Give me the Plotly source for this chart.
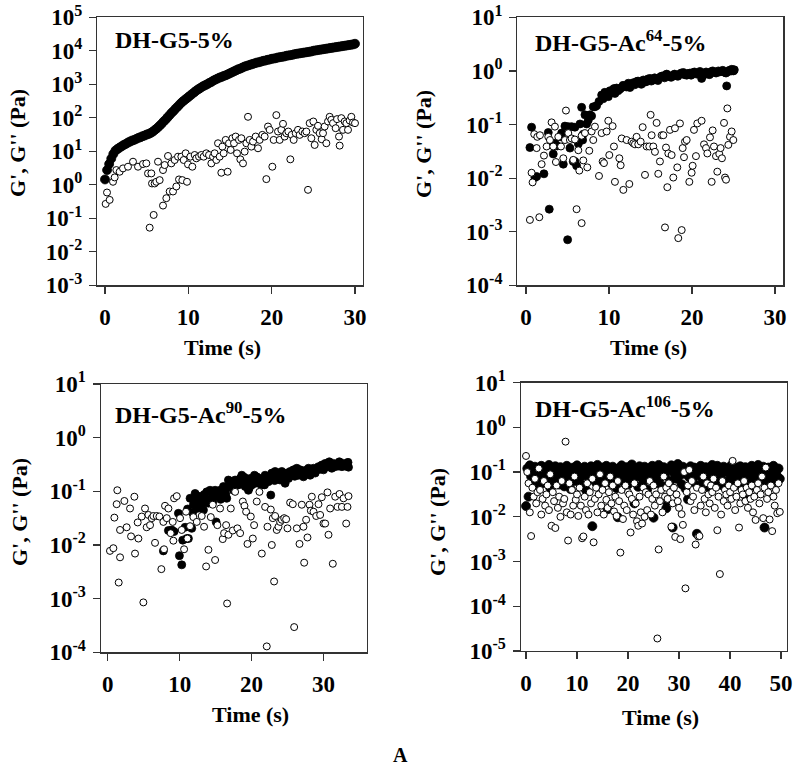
import plotly.graph_objects as go

# ---------------- DATA (values stored as log10 of Pa) ----------------
# Panel 1: DH-G5-5%
p1_gp_t = [0,0.25,0.5,0.75,1,1.25,1.5,1.75,2,2.25,2.5,2.75,3,3.25,3.5,3.75,4,4.25,4.5,4.75,
           5,5.25,5.5,5.75,6,6.25,6.5,6.75,7,7.25,7.5,7.75,8,8.25,8.5,8.75,9,9.25,9.5,9.75,
           10,10.25,10.5,10.75,11,11.25,11.5,11.75,12,12.25,12.5,12.75,13,13.25,13.5,13.75,14,14.25,14.5,14.75,
           15,15.25,15.5,15.75,16,16.25,16.5,16.75,17,17.25,17.5,17.75,18,18.25,18.5,18.75,19,19.25,19.5,19.75,
           20,20.25,20.5,20.75,21,21.25,21.5,21.75,22,22.25,22.5,22.75,23,23.25,23.5,23.75,24,24.25,24.5,24.75,
           25,25.25,25.5,25.75,26,26.25,26.5,26.75,27,27.25,27.5,27.75,28,28.25,28.5,28.75,29,29.25,29.5,29.75,30]
p1_gp_log = [0.16,0.44,0.62,0.78,0.92,1.02,1.07,1.11,
             1.15,1.19,1.22,1.26,1.29,1.32,1.34,1.37,
             1.40,1.42,1.45,1.47,1.50,1.52,1.55,1.59,
             1.64,1.69,1.75,1.81,1.88,1.94,2.01,2.08,
             2.15,2.21,2.28,2.34,2.41,2.47,2.52,2.57,
             2.62,2.67,2.72,2.77,2.82,2.86,2.90,2.94,
             2.97,3.00,3.04,3.07,3.11,3.14,3.17,3.20,
             3.22,3.25,3.27,3.30,3.33,3.36,3.39,3.42,
             3.45,3.47,3.50,3.53,3.55,3.57,3.59,3.61,
             3.63,3.65,3.66,3.68,3.70,3.71,3.73,3.74,
             3.76,3.77,3.78,3.80,3.81,3.82,3.83,3.85,
             3.86,3.87,3.88,3.90,3.91,3.92,3.93,3.94,
             3.95,3.96,3.97,3.98,4.00,4.01,4.02,4.03,
             4.04,4.05,4.06,4.07,4.08,4.09,4.10,4.11,
             4.12,4.13,4.14,4.15,4.16,4.17,4.18,4.19,4.21]
p1_gpp_t = [0.08,0.24,0.56,0.96,1.16,1.36,1.76,2.16,2.76,3.36,
            3.96,4.56,4.96,5.16,5.36,5.56,5.64,5.84,5.96,6.16,
            6.36,6.56,6.96,6.96,7.16,7.36,7.56,7.76,7.96,8.16,
            8.36,8.56,8.76,8.88,9.16,9.28,9.44,9.68,9.84,9.96,
            10.24,10.48,10.76,10.96,11.28,11.56,11.84,12.16,12.48,12.76,
            12.96,13.16,13.36,13.56,13.76,13.96,14.08,14.24,14.48,14.72,
            14.88,15.08,15.28,15.48,15.68,15.84,16.08,16.24,16.36,16.56,
            16.76,16.96,17.16,17.36,17.56,17.76,18.08,18.36,18.56,18.88,
            19.16,19.36,19.56,19.76,20.08,20.24,20.56,20.76,20.96,21.16,
            21.36,21.56,21.76,22.00,22.24,22.40,22.64,22.88,23.16,23.36,
            23.68,23.96,24.16,24.36,24.56,24.76,25.00,25.16,25.36,25.56,
            25.76,26.00,26.16,26.36,26.56,26.76,26.96,27.16,27.36,27.68,
            27.84,28.08,28.16,28.36,28.56,28.76,28.96,29.16,29.36,29.56,
            29.76,30.0]
p1_gpp_log = [-0.57,-0.23,-0.45,0.09,0.22,0.44,0.39,0.49,0.54,0.69,
              0.54,0.62,0.64,0.34,-1.28,0.34,0.04,-0.90,0.04,0.09,
              0.69,0.14,-0.62,0.44,0.59,-0.40,0.86,-0.20,0.64,-0.20,
              0.74,-0.05,0.84,0.16,0.84,0.14,0.74,0.94,0.09,0.61,
              0.84,0.54,0.89,0.79,0.84,0.89,0.84,0.94,0.89,0.64,
              0.84,0.94,0.74,1.24,0.84,0.36,1.14,0.94,1.34,0.39,
              1.24,1.04,1.39,1.24,1.44,0.94,1.34,0.76,1.39,0.64,
              0.99,1.24,2.03,1.34,1.14,1.29,1.44,1.09,1.34,1.49,
              1.44,0.17,1.74,1.64,0.54,1.34,2.08,1.59,1.34,1.64,
              1.82,1.44,1.54,1.59,0.76,1.49,1.34,1.54,1.64,1.49,
              1.59,1.54,1.59,-0.15,1.84,1.39,1.89,1.19,1.64,1.76,
              1.54,1.36,1.54,1.74,1.24,1.89,2.03,1.94,1.84,1.69,
              1.96,1.44,1.17,1.99,1.64,1.89,1.84,1.64,1.92,2.03,
              1.86,1.84]

# Panel 2: DH-G5-Ac64-5%
p2_gp_t = [0.48,0.68,1.08,1.29,2.17,2.69,2.81,3.29,3.49,3.78,
           4.10,4.30,4.50,4.70,5.02,5.10,5.30,5.50,5.70,5.90,
           5.90,6.10,6.31,6.51,6.71,6.83,6.91,7.11,7.31,7.51,
           7.71,7.91,8.11,8.31,8.51,8.80,9.12,9.40,9.72,9.92,
           10.12,10.52,10.72,10.92,11.33,11.53,11.93,12.33,12.53,12.93,
           13.33,13.73,14.14,14.54,14.94,15.34,15.74,16.14,16.55,16.95,
           17.35,17.75,18.15,18.55,18.96,19.36,19.76,20.16,20.56,20.96,
           21.16,21.57,21.97,22.37,22.77,23.17,23.57,23.98,24.18,24.38,
           24.58,24.78,24.98,25.10,
           9.3,9.5,9.9,10.3,10.6,11.1,11.7,12.1,12.7,13.1,
           13.5,13.9,14.3,14.7,15.1,15.5,15.9,16.3,16.7,17.1,
           17.5,17.9,18.3,18.7,19.1,19.5,19.9,20.3,20.7,21.3,
           21.7,22.1,22.5,22.9,23.3,23.7,24.1,24.5,24.8,25.0]
p2_gp_log = [-1.43,-1.05,-1.99,-1.97,-1.92,-1.15,-2.58,-1.55,-1.35,-1.40,
             -1.23,-1.16,-1.74,-1.03,-3.15,-1.04,-1.44,-1.04,-1.69,-1.69,
             -1.05,-1.77,-1.36,-0.99,-0.68,-1.29,-1.18,-0.82,-0.99,-0.92,
             -0.82,-0.84,-0.67,-0.67,-0.65,-0.57,-0.45,-0.48,-0.42,-0.48,
             -0.37,-0.36,-0.42,-0.32,-0.34,-0.31,-0.28,-0.23,-0.31,-0.22,
             -0.20,-0.23,-0.17,-0.20,-0.14,-0.17,-0.16,-0.12,-0.09,-0.06,
             -0.11,-0.08,-0.09,-0.06,-0.03,-0.08,-0.04,-0.03,-0.06,-0.01,
             -0.14,-0.06,-0.04,-0.01,-0.03,0.0,-0.01,-0.03,-0.28,-0.01,
             0.00,0.0,0.01,0.02,
             -0.52,-0.40,-0.44,-0.40,-0.33,-0.37,-0.27,-0.30,-0.25,-0.26,
             -0.19,-0.25,-0.21,-0.15,-0.19,-0.13,-0.18,-0.10,-0.13,-0.08,
             -0.12,-0.06,-0.10,-0.04,-0.07,-0.05,-0.08,-0.02,-0.05,-0.09,
             -0.02,-0.07,0.00,-0.04,-0.02,0.01,-0.04,0.01,0.03,0.00]
p2_gpp_t = [0.48,0.68,0.80,1.00,1.29,1.37,1.61,1.69,1.89,2.17,
            2.49,2.69,2.89,3.09,3.29,3.49,3.61,3.90,4.22,4.50,
            4.70,4.82,5.10,5.30,5.50,5.70,5.90,6.10,6.31,6.43,
            6.71,6.71,6.91,7.11,7.39,7.63,7.91,8.11,8.31,8.80,
            9.12,9.24,9.40,9.72,9.92,10.04,10.44,10.60,10.72,11.25,
            11.41,11.53,11.73,12.13,12.45,12.73,12.93,13.13,13.33,13.53,
            13.82,14.06,14.34,14.54,14.86,15.02,15.14,15.34,15.54,15.74,
            15.94,16.14,16.35,16.55,16.75,16.87,17.03,17.15,17.35,17.55,
            17.75,17.95,18.23,18.35,18.55,18.76,18.88,19.04,19.16,19.36,
            19.68,19.96,20.08,20.24,20.48,20.64,21.16,21.45,21.69,21.85,
            22.17,22.37,22.49,22.65,22.89,23.05,23.29,23.45,23.61,23.86,
            23.98,24.10,24.26,24.38,24.58,24.78,24.98]
p2_gpp_log = [-2.78,-1.90,-2.08,-1.18,-1.44,-1.23,-2.73,-1.20,-1.74,-1.58,
              -1.41,-1.23,-1.29,-0.96,-1.41,-1.04,-1.70,-1.23,-1.41,-1.63,
              -1.29,-0.74,-1.16,-1.29,-1.26,-1.66,-1.28,-2.58,-1.48,-1.86,
              -2.84,-1.21,-1.67,-1.16,-1.80,-1.49,-1.13,-1.29,-1.04,-1.96,
              -1.16,-1.69,-1.72,-1.13,-0.93,-1.57,-1.03,-1.41,-2.07,-1.63,
              -1.76,-1.26,-2.22,-1.29,-2.11,-1.32,-1.35,-1.37,-1.23,-1.37,
              -1.32,-1.05,-1.94,-1.41,-1.41,-0.82,-1.20,-1.41,-1.51,-0.97,
              -1.92,-1.69,-1.20,-1.20,-2.92,-1.43,-2.17,-1.54,-1.10,-1.57,
              -1.99,-1.07,-1.80,-3.12,-0.98,-2.97,-1.44,-1.61,-1.32,-1.29,
              -2.07,-1.90,-1.77,-1.10,-1.59,-0.98,-0.93,-1.37,-1.44,-1.54,
              -1.24,-2.07,-1.11,-1.41,-1.59,-1.88,-1.55,-1.44,-1.63,-0.97,
              -1.99,-2.03,-0.70,-1.38,-1.23,-1.13,-1.29]

# Panel 3: DH-G5-Ac90-5%
p3_gp_t = [7.74,8.44,8.90,9.23,9.83,9.97,10.29,10.43,10.76,10.99,
           11.22,11.45,11.68,11.91,12.15,12.38,12.61,12.84,13.07,13.31,
           13.54,13.77,14.00,14.23,14.46,14.70,14.93,15.07,15.39,15.62,
           15.86,16.09,16.32,16.55,16.78,17.01,17.25,17.48,17.71,17.94,
           18.17,18.41,18.64,18.87,19.10,19.33,19.56,19.80,20.03,20.26,
           20.49,20.72,20.95,21.19,21.42,21.65,21.88,22.11,22.34,22.67,
           22.81,23.04,23.27,23.50,23.74,23.97,24.20,24.43,24.66,24.90,
           25.13,25.36,25.59,25.82,26.05,26.29,26.52,26.75,26.98,27.21,
           27.44,27.68,27.91,28.14,28.37,28.61,28.84,29.07,29.30,29.53,
           29.76,30.00,30.23,30.46,30.69,30.92,31.15,31.39,31.62,31.85,
           32.08,32.31,32.55,32.78,33.01,33.24,33.47,
           11.1,11.8,12.3,12.9,13.4,13.9,14.6,15.2,15.7,16.4,
           17.1,17.6,18.3,19.0,19.7,20.4,21.1,21.8,22.5,23.2,
           23.9,24.6,25.3,26.0,26.7,27.4,28.1,28.8,29.5,30.1,
           30.8,31.5,32.2,32.9,33.4]
p3_gp_log = [-2.11,-1.73,-1.72,-1.75,-1.41,-2.20,-2.37,-1.91,-1.67,-1.88,
             -1.88,-1.13,-1.69,-1.25,-1.04,-1.32,-1.09,-1.19,-1.25,-1.35,
             -1.13,-1.01,-1.22,-0.98,-1.13,-1.04,-0.98,-1.57,-1.10,-0.98,
             -1.10,-0.91,-0.98,-1.13,-0.79,-0.91,-0.82,-0.98,-0.79,-0.85,
             -0.88,-0.76,-0.70,-0.85,-0.91,-0.82,-0.98,-0.76,-0.88,-0.78,
             -0.85,-0.73,-0.85,-0.76,-0.88,-0.82,-0.70,-0.76,-0.82,-1.07,
             -0.66,-0.73,-0.63,-0.76,-0.66,-0.79,-0.63,-0.70,-0.85,-0.66,
             -0.76,-0.63,-0.70,-0.60,-0.66,-0.57,-0.70,-0.60,-0.63,-0.73,
             -0.61,-0.66,-0.57,-0.70,-0.63,-0.57,-0.66,-0.60,-0.54,-0.59,
             -0.51,-0.60,-0.48,-0.54,-0.47,-0.51,-0.57,-0.48,-0.54,-0.49,
             -0.53,-0.47,-0.54,-0.48,-0.53,-0.49,-0.55,
             -1.33,-1.40,-1.18,-1.28,-1.06,-1.16,-1.20,-1.02,-1.15,-1.05,
             -0.86,-0.92,-0.80,-0.74,-0.93,-0.70,-0.80,-0.88,-0.72,-0.80,
             -0.70,-0.75,-0.68,-0.72,-0.66,-0.69,-0.61,-0.62,-0.56,-0.55,
             -0.45,-0.52,-0.45,-0.50,-0.46]
p3_gpp_t = [0.32,0.79,0.93,1.25,1.34,1.53,1.72,1.72,2.32,2.64,
            3.11,3.25,3.71,3.80,4.17,4.27,4.73,4.96,5.19,5.42,
            5.66,5.89,6.12,6.35,6.58,6.82,7.19,7.46,7.74,7.83,
            7.97,8.21,8.44,8.76,9.04,9.13,9.23,9.60,10.06,10.29,
            10.62,10.89,11.08,11.45,11.91,12.38,13.07,13.40,13.68,14.00,
            14.33,14.60,14.93,15.25,15.62,15.99,16.18,16.46,16.60,16.78,
            17.11,17.39,17.71,18.03,18.41,18.78,19.01,19.24,19.43,19.89,
            20.17,20.35,20.72,21.09,21.42,21.88,22.11,22.21,22.67,22.81,
            22.95,23.13,23.27,23.50,23.74,23.97,24.20,24.53,24.80,24.99,
            25.36,25.73,25.92,26.29,26.66,26.98,27.21,27.31,27.58,27.77,
            28.05,28.24,28.37,28.61,28.98,29.30,29.53,29.76,30.00,30.23,
            30.55,30.69,30.92,31.29,31.62,31.94,32.22,32.55,32.78,33.15,
            33.33,33.47]
p3_gpp_log = [-2.11,-2.06,-1.49,-1.24,-0.98,-2.70,-1.72,-2.23,-1.18,-1.67,
              -1.32,-1.84,-1.10,-2.16,-1.58,-1.88,-1.47,-3.07,-1.32,-1.67,
              -1.44,-1.63,-1.50,-1.46,-1.96,-1.46,-1.47,-2.45,-1.57,-2.08,
              -1.27,-1.50,-1.32,-1.78,-1.57,-1.92,-1.13,-1.09,-1.50,-1.72,
              -2.08,-1.38,-1.88,-1.65,-1.48,-1.57,-1.46,-1.66,-2.40,-2.09,
              -1.48,-1.25,-2.28,-1.63,-1.32,-1.89,-1.78,-1.63,-3.09,-1.81,
              -1.32,-1.73,-1.01,-1.69,-1.78,-1.19,-1.27,-1.38,-1.98,-1.47,
              -1.88,-1.63,-1.19,-1.01,-2.16,-1.29,-3.89,-1.66,-1.34,-2.00,
              -1.50,-2.68,-1.46,-1.72,-1.66,-1.57,-1.53,-1.50,-1.52,-1.69,
              -1.21,-1.24,-3.53,-1.69,-1.98,-1.25,-1.66,-2.33,-1.53,-1.86,
              -1.25,-1.36,-1.10,-1.38,-1.46,-1.24,-1.44,-1.11,-1.60,-1.60,
              -1.02,-1.81,-1.32,-2.35,-1.10,-1.29,-1.05,-1.29,-1.13,-1.60,
              -1.29,-1.09]

# Panel 4: DH-G5-Ac106-5% (common sampling times for G' and G'')
p4_t = [0,0.25,0.5,0.75,1,1.25,1.5,1.75,2,2.25,
        2.5,2.75,3,3.25,3.5,3.75,4,4.25,4.5,4.75,
        5,5.25,5.5,5.75,6,6.25,6.5,6.75,7,7.25,
        7.5,7.75,8,8.25,8.5,8.75,9,9.25,9.5,9.75,
        10,10.25,10.5,10.75,11,11.25,11.5,11.75,12,12.25,
        12.5,12.75,13,13.25,13.5,13.75,14,14.25,14.5,14.75,
        15,15.25,15.5,15.75,16,16.25,16.5,16.75,17,17.25,
        17.5,17.75,18,18.25,18.5,18.75,19,19.25,19.5,19.75,
        20,20.25,20.5,20.75,21,21.25,21.5,21.75,22,22.25,
        22.5,22.75,23,23.25,23.5,23.75,24,24.25,24.5,24.75,
        25,25.25,25.5,25.75,26,26.25,26.5,26.75,27,27.25,
        27.5,27.75,28,28.25,28.5,28.75,29,29.25,29.5,29.75,
        30,30.25,30.5,30.75,31,31.25,31.5,31.75,32,32.25,
        32.5,32.75,33,33.25,33.5,33.75,34,34.25,34.5,34.75,
        35,35.25,35.5,35.75,36,36.25,36.5,36.75,37,37.25,
        37.5,37.75,38,38.25,38.5,38.75,39,39.25,39.5,39.75,
        40,40.25,40.5,40.75,41,41.25,41.5,41.75,42,42.25,
        42.5,42.75,43,43.25,43.5,43.75,44,44.25,44.5,44.75,
        45,45.25,45.5,45.75,46,46.25,46.5,46.75,47,47.25,
        47.5,47.75,48,48.25,48.5,48.75,49,49.25,49.5,49.75]
p4_gp_log = [-1.76,-0.92,-1.55,-0.85,-1.10,-0.95,-1.20,-0.88,-1.02,-1.30,
             -0.97,-1.12,-0.86,-1.25,-1.00,-0.90,-1.18,-1.05,-0.84,-1.35,
             -1.08,-0.93,-1.22,-0.87,-1.15,-0.98,-1.28,-0.89,-1.04,-0.94,
             -1.32,-1.00,-0.86,-1.16,-0.95,-1.38,-1.06,-0.90,-1.20,-0.99,
             -0.85,-1.13,-1.02,-1.27,-0.92,-1.08,-0.88,-1.40,-1.00,-0.95,
             -1.17,-0.87,-2.21,-1.05,-0.93,-1.24,-0.84,-1.10,-0.98,-1.30,
             -0.90,-1.07,-1.19,-0.86,-1.83,-1.02,-0.94,-1.26,-0.88,-1.12,
             -0.97,-1.36,-2.01,-0.91,-1.05,-0.85,-1.21,-0.99,-1.14,-0.89,
             -1.28,-0.96,-1.08,-0.83,-1.18,-1.70,-0.93,-1.03,-1.33,-0.87,
             -1.11,-0.95,-1.22,-0.88,-1.06,-1.39,-0.92,-1.00,-1.16,-0.86,
             -2.02,-1.04,-0.90,-1.25,-0.84,-1.13,-0.97,-1.31,-0.89,-1.07,
             -1.81,-1.70,-0.94,-1.20,-0.85,-2.24,-1.02,-0.91,-1.15,-0.82,
             -1.09,-0.96,-1.27,-0.88,-1.04,-1.37,-0.93,-1.61,-1.12,-0.87,
             -1.00,-1.23,-0.90,-1.08,-2.38,-0.95,-1.30,-0.86,-1.14,-0.99,
             -1.19,-0.89,-1.05,-1.33,-0.92,-1.10,-0.84,-1.25,-0.97,-1.07,
             -0.86,-1.16,-0.94,-1.29,-1.02,-0.88,-1.21,-0.98,-1.36,-0.91,
             -1.06,-0.85,-1.18,-0.95,-1.27,-0.90,-1.11,-1.00,-0.87,-1.34,
             -0.96,-1.14,-0.89,-1.59,-1.03,-0.92,-1.24,-0.86,-1.09,-1.31,
             -0.93,-1.05,-0.84,-1.20,-0.98,-1.13,-0.88,-2.24,-1.01,-1.28,
             -0.90,-1.17,-0.95,-1.07,-0.86,-1.23,-0.99,-1.10,-0.92,-1.15]
p4_gpp_log = [-0.64,-1.00,-1.25,-1.90,-2.43,-1.35,-1.55,-1.15,-1.70,-1.45,
              -0.92,-1.40,-1.95,-1.60,-1.20,-1.75,-1.50,-1.30,-1.85,-1.05,
              -2.20,-1.45,-1.65,-2.25,-1.30,-1.80,-1.55,-2.00,-1.20,-1.70,
              -1.60,-0.32,-1.90,-2.53,-1.25,-1.95,-1.40,-1.75,-1.10,-1.62,
              -1.50,-1.98,-1.35,-1.75,-2.48,-2.44,-1.55,-1.85,-1.25,-1.95,
              -1.45,-1.70,-1.15,-2.57,-1.60,-1.35,-1.90,-1.50,-1.05,-1.75,
              -1.40,-1.95,-1.25,-1.62,-1.80,-1.45,-1.10,-1.70,-1.30,-1.88,
              -1.55,-1.98,-1.20,-1.65,-2.80,-1.40,-2.05,-1.75,-1.30,-1.85,
              -1.45,-1.50,-2.35,-1.60,-1.95,-1.25,-1.70,-2.10,-2.20,-1.55,
              -1.90,-2.15,-1.35,-2.00,-1.45,-1.85,-1.50,-1.20,-1.95,-1.60,
              -1.30,-1.75,-1.50,-4.72,-2.73,-1.65,-1.40,-1.90,-1.10,-1.55,
              -1.35,-1.60,-1.25,-1.45,-2.22,-1.70,-1.35,-2.45,-1.50,-1.65,
              -1.80,-2.50,-1.94,-2.18,-1.00,-3.60,-1.45,-1.30,-0.95,-1.65,
              -1.20,-1.55,-1.85,-2.62,-1.35,-2.44,-2.43,-1.75,-1.40,-1.10,
              -1.60,-1.90,-1.25,-1.50,-1.70,-1.30,-1.45,-1.15,-1.80,-1.35,
              -2.30,-1.55,-3.28,-1.95,-1.20,-1.65,-1.40,-1.50,-1.75,-1.30,
              -1.45,-1.60,-0.75,-1.35,-1.85,-1.55,-1.25,-2.24,-1.70,-1.40,
              -1.50,-1.20,-1.65,-1.35,-1.80,-1.45,-1.60,-1.30,-1.90,-1.55,
              -2.07,-1.40,-1.25,-1.70,-1.50,-1.10,-2.03,-1.35,-0.90,-1.60,
              -1.45,-2.06,-1.30,-2.32,-1.55,-1.75,-1.40,-1.92,-1.25,-1.89]

panel_titles = ["DH-G5-5%", "DH-G5-Ac<sup>64</sup>-5%",
                "DH-G5-Ac<sup>90</sup>-5%", "DH-G5-Ac<sup>106</sup>-5%"]
x_title = "Time (s)"
y_title = "G', G'' (Pa)"
figure_label = "A"

# ---------------- LAYOUT ----------------
W, H = 800, 779
FONT = "Liberation Serif"
LINE = "#333333"


def fx(px):
    return px / W


def fy(py):
    return 1 - py / H


def ticks_for(lo, hi):
    vals = [10.0 ** k for k in range(lo, hi + 1)]
    txt = ["10<sup>%d</sup>" % k for k in range(lo, hi + 1)]
    return vals, txt


panels = [
    dict(dx=(97, 363), dy=(17.3, 285.3), xr=[-0.96, 30.96], yr=(-3, 5), xt=[0, 10, 20, 30],
         gp=(p1_gp_t, p1_gp_log), gpp=(p1_gpp_t, p1_gpp_log), gpsize=9,
         lab=(113, 40), xt_pos=(222, 347), yt_pos=(17, 143)),
    dict(dx=(517.3, 783.3), dy=(17.3, 285.3), xr=[-1.04, 31.0], yr=(-4, 1), xt=[0, 10, 20, 30],
         gp=(p2_gp_t, p2_gp_log), gpp=(p2_gpp_t, p2_gpp_log), gpsize=8,
         lab=(533, 41), xt_pos=(648, 347), yt_pos=(423, 144)),
    dict(dx=(100.7, 366.7), dy=(384, 652.3), xr=[-0.97, 36.0], yr=(-4, 1), xt=[0, 10, 20, 30],
         gp=(p3_gp_t, p3_gp_log), gpp=(p3_gpp_t, p3_gpp_log), gpsize=8,
         lab=(113, 413), xt_pos=(250, 714), yt_pos=(20, 512)),
    dict(dx=(520.7, 786.7), dy=(382.6, 651), xr=[-1.04, 51.1], yr=(-5, 1), xt=[0, 10, 20, 30, 40, 50],
         gp=(p4_t, p4_gp_log), gpp=(p4_t, p4_gpp_log), gpsize=9,
         lab=(533, 407), xt_pos=(660, 717), yt_pos=(437, 522)),
]

fig = go.Figure()
annotations = []
for i, p in enumerate(panels):
    n = "" if i == 0 else str(i + 1)
    xa, ya = "x" + n, "y" + n
    gt, gl = p["gp"]
    ot, ol = p["gpp"]
    fig.add_trace(go.Scatter(
        x=gt, y=[10.0 ** v for v in gl], mode="markers", xaxis=xa, yaxis=ya,
        marker=dict(symbol="circle", size=p["gpsize"], color="black",
                    line=dict(color="black", width=0.8)),
        showlegend=False, hoverinfo="skip"))
    fig.add_trace(go.Scatter(
        x=ot, y=[10.0 ** v for v in ol], mode="markers", xaxis=xa, yaxis=ya,
        marker=dict(symbol="circle", size=7, color="white",
                    line=dict(color="black", width=1)),
        showlegend=False, hoverinfo="skip"))

    tv, tt = ticks_for(p["yr"][0], p["yr"][1])
    common = dict(showline=True, mirror=True, linecolor=LINE, linewidth=1.2,
                  ticks="outside", ticklen=7, tickwidth=1.2, tickcolor=LINE,
                  showgrid=False, zeroline=False, automargin=False,
                  tickfont=dict(family=FONT, size=23, color="black", weight="bold"))
    fig.layout["xaxis" + n] = dict(
        domain=[fx(p["dx"][0]), fx(p["dx"][1])], range=p["xr"], anchor=ya,
        tickmode="array", tickvals=p["xt"], ticklabelstandoff=4, **common)
    fig.layout["yaxis" + n] = dict(
        domain=[fy(p["dy"][1]), fy(p["dy"][0])], type="log",
        range=[p["yr"][0], p["yr"][1]], anchor=xa,
        tickmode="array", tickvals=tv, ticktext=tt, ticklabelstandoff=2, **common)

    annotations.append(dict(
        text="<b>%s</b>" % panel_titles[i], x=fx(p["lab"][0]), y=fy(p["lab"][1]),
        xref="paper", yref="paper", xanchor="left", yanchor="middle", showarrow=False,
        font=dict(family=FONT, size=24, color="black")))
    annotations.append(dict(
        text="<b>%s</b>" % x_title, x=fx(p["xt_pos"][0]), y=fy(p["xt_pos"][1]),
        xref="paper", yref="paper", xanchor="center", yanchor="middle", showarrow=False,
        font=dict(family=FONT, size=22, color="black")))
    annotations.append(dict(
        text="<b>%s</b>" % y_title, x=fx(p["yt_pos"][0]), y=fy(p["yt_pos"][1]),
        xref="paper", yref="paper", xanchor="center", yanchor="middle", showarrow=False,
        textangle=-90, font=dict(family=FONT, size=22, color="black")))

annotations.append(dict(
    text="<b>%s</b>" % figure_label, x=fx(400), y=fy(755), xref="paper", yref="paper",
    xanchor="center", yanchor="middle", showarrow=False,
    font=dict(family=FONT, size=20, color="black")))

fig.update_layout(
    width=W, height=H, margin=dict(l=0, r=0, t=0, b=0, autoexpand=False),
    paper_bgcolor="white", plot_bgcolor="white",
    annotations=annotations, showlegend=False)

# remove the default page margin so the 800x779 figure fills the window exactly
fig.write_html("out.html",
               config={"displayModeBar": False, "staticPlot": True},
               post_script="document.body.style.margin='0';document.body.style.padding='0';")
